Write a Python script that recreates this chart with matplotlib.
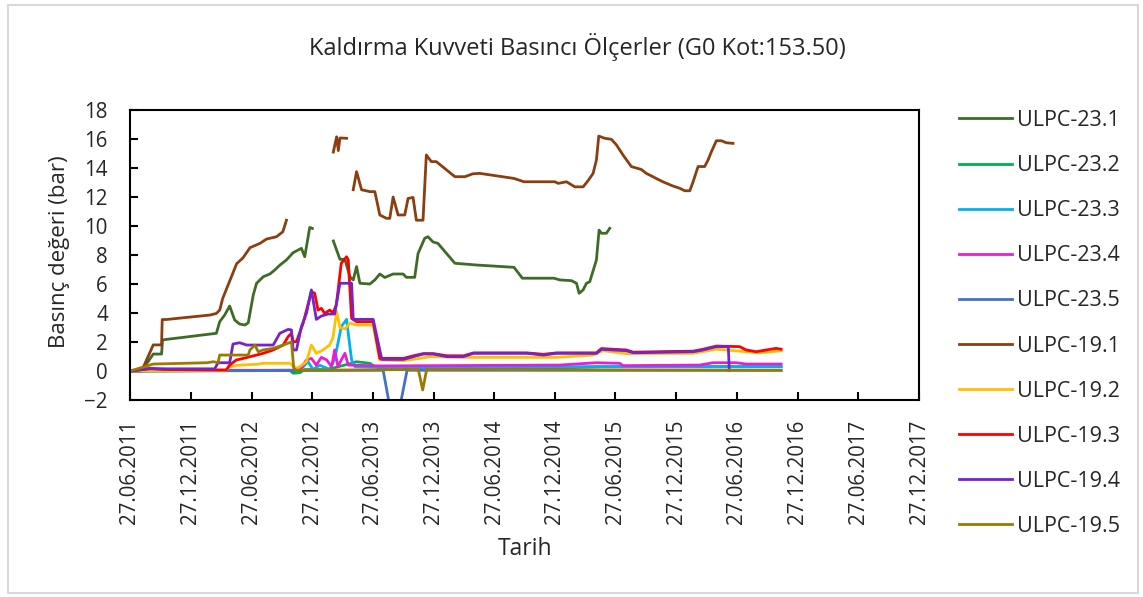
import matplotlib
matplotlib.use("Agg")
import matplotlib.pyplot as plt
import matplotlib.dates as mdates
import matplotlib.patches as mpatches
import numpy as np
import pandas as pd

plt.rcParams['font.family'] = ['Open Sans', 'DejaVu Sans']

NaN = np.nan

# ---------------- data ----------------
series_names = ["ULPC-23.1", "ULPC-23.2", "ULPC-23.3", "ULPC-23.4", "ULPC-23.5",
                "ULPC-19.1", "ULPC-19.2", "ULPC-19.3", "ULPC-19.4", "ULPC-19.5"]
series_colors = ["#3E6B26", "#00B050", "#00B0F0", "#E81ED2", "#4472C4",
                 "#8B3E0F", "#FFC000", "#FF0000", "#7424C8", "#9C7A00"]

d231 = ["2011-06-27", "2011-08-01", "2011-09-05", "2011-09-30", "2011-10-03", "2011-10-15",
        "2012-03-13", "2012-03-23", "2012-04-07", "2012-04-22", "2012-05-07", "2012-05-22",
        "2012-06-07", "2012-06-17", "2012-07-02", "2012-07-12", "2012-08-01", "2012-08-21",
        "2012-09-05", "2012-09-20", "2012-10-10", "2012-10-30", "2012-11-14", "2012-11-24",
        "2012-12-04", "2012-12-19", "2012-12-27", "2013-01-20",
        "2013-02-28", "2013-03-20", "2013-04-04", "2013-04-19", "2013-04-29", "2013-05-09",
        "2013-05-19", "2013-06-18", "2013-07-03", "2013-07-18", "2013-08-02", "2013-08-27",
        "2013-09-26", "2013-10-06", "2013-10-31", "2013-11-10", "2013-11-30", "2013-12-10",
        "2013-12-25", "2014-01-09", "2014-03-01", "2014-05-05", "2014-08-26", "2014-09-20",
        "2014-12-24", "2015-01-11", "2015-02-15", "2015-03-02", "2015-03-10", "2015-03-22",
        "2015-04-01", "2015-04-11", "2015-05-01", "2015-05-09", "2015-05-16", "2015-05-31",
        "2015-06-10"]
v231 = [0, 0, 1.17, 1.17, 2.14, 2.18,
        2.6, 3.4, 3.86, 4.48, 3.52, 3.24,
        3.17, 3.33, 5.24, 6.05, 6.5, 6.69,
        6.97, 7.3, 7.66, 8.16, 8.34, 8.46,
        7.88, 9.9, 9.83, NaN,
        8.97, 7.7, 7.7, 6.5, 6.28, 7.2,
        6.05, 6.0, 6.28, 6.69, 6.45, 6.69,
        6.69, 6.46, 6.46, 8.1, 9.15, 9.26,
        8.9, 8.8, 7.43, 7.31, 7.15, 6.4,
        6.4, 6.28, 6.23, 6.05, 5.36, 5.59,
        6.05, 6.16, 7.66, 9.72, 9.5, 9.5,
        9.84]

d232 = ["2011-06-27", "2012-10-20", "2012-10-30", "2012-11-19", "2012-12-04", "2013-02-08",
        "2013-02-27", "2013-03-24", "2013-04-19", "2013-05-09", "2013-06-18", "2013-07-03",
        "2013-07-18", "2014-04-05", "2015-01-01", "2015-05-11", "2016-11-07"]
v232 = [0, 0.05, -0.15, -0.12, 0.1, 0.1,
        0.2, 0.35, 0.5, 0.64, 0.53, 0.3,
        0.2, 0.18, 0.2, 0.3, 0.3]

d233 = ["2011-06-27", "2012-11-19", "2012-12-14", "2012-12-29", "2013-01-18", "2013-02-17",
        "2013-03-04", "2013-03-24", "2013-04-09", "2013-04-14", "2013-04-24", "2013-05-04",
        "2013-07-18", "2015-05-11", "2016-11-07"]
v233 = [0, 0.05, 0.64, 0.1, 0.4, 0.1,
        0.8, 3.06, 3.56, 2.6, 0.76, 0.3,
        0.25, 0.3, 0.3]

d234 = ["2011-06-27", "2011-09-05", "2011-12-24", "2012-11-19", "2012-12-09", "2012-12-24",
        "2013-01-08", "2013-01-23", "2013-02-08", "2013-02-23", "2013-03-04", "2013-03-14",
        "2013-03-24", "2013-04-04", "2013-04-14", "2013-07-18", "2015-01-11", "2015-05-01",
        "2015-07-10", "2015-07-20", "2016-03-07", "2016-04-16", "2016-06-26", "2016-07-25",
        "2016-11-07"]
v234 = [0, 0.15, 0.05, 0.05, 0.76, 0.87,
        0.41, 0.94, 0.76, 0.3, 1.45, 0.3,
        0.76, 1.22, 0.41, 0.35, 0.41, 0.57,
        0.53, 0.37, 0.41, 0.57, 0.57, 0.48,
        0.48]

d235 = ["2011-06-27", "2013-07-28", "2013-08-23", "2013-09-10", "2013-10-08", "2016-11-07"]
v235 = [0, 0.05, -3.2, -3.2, 0.05, 0.05]

d191 = ["2011-06-27", "2011-08-01", "2011-09-05", "2011-09-30", "2011-10-02", "2011-10-14",
        "2012-02-23", "2012-03-13", "2012-03-23", "2012-04-01", "2012-04-15", "2012-05-13",
        "2012-06-01", "2012-06-22", "2012-07-22", "2012-08-11", "2012-08-30", "2012-09-10",
        "2012-09-29", "2012-10-10", "2012-12-01",
        "2013-02-28", "2013-03-10", "2013-03-15", "2013-03-20", "2013-04-09", "2013-04-20",
        "2013-04-29", "2013-05-09", "2013-05-24", "2013-06-18", "2013-07-03", "2013-07-18",
        "2013-08-07", "2013-08-17", "2013-08-27", "2013-09-11", "2013-10-01", "2013-10-11",
        "2013-10-26", "2013-11-05", "2013-11-25", "2013-12-05", "2013-12-20", "2014-01-04",
        "2014-03-01", "2014-03-31", "2014-04-24", "2014-05-15", "2014-08-26", "2014-09-25",
        "2014-12-27", "2015-01-06", "2015-01-31", "2015-02-25", "2015-03-22", "2015-04-06",
        "2015-04-21", "2015-05-01", "2015-05-08", "2015-05-26", "2015-06-15", "2015-06-30",
        "2015-07-20", "2015-08-14", "2015-08-29", "2015-09-13", "2015-09-28", "2015-10-18",
        "2015-11-02", "2015-11-17", "2015-12-17", "2016-01-07", "2016-01-22", "2016-02-06",
        "2016-02-16", "2016-03-02", "2016-03-22", "2016-04-01", "2016-04-11", "2016-04-26",
        "2016-05-11", "2016-05-26", "2016-06-15"]
v191 = [0, 0, 1.8, 1.8, 3.55, 3.55,
        3.86, 3.97, 4.2, 5.0, 5.8, 7.4,
        7.8, 8.5, 8.8, 9.1, 9.2, 9.26,
        9.6, 10.4, NaN,
        15.1, 16.15, 15.2, 16.07, 16.05, NaN,
        12.5, 13.75, 12.5, 12.37, 12.37, 10.76,
        10.53, 10.53, 12.0, 10.76, 10.76, 11.9,
        11.97, 10.4, 10.4, 14.9, 14.44, 14.44,
        13.4, 13.4, 13.6, 13.63, 13.28, 13.05,
        13.05, 12.94, 13.05, 12.7, 12.7, 13.13,
        13.63, 14.55, 16.2, 16.05, 15.98, 15.6,
        14.9, 14.1, 14.0, 13.9, 13.63, 13.4,
        13.22, 13.05, 12.76, 12.6, 12.43, 12.43,
        13.05, 14.1, 14.1, 14.55, 15.12, 15.88,
        15.88, 15.74, 15.7]

d192 = ["2011-06-27", "2012-04-12", "2012-04-22", "2012-05-22", "2012-07-12", "2012-08-01",
        "2012-10-20", "2012-11-09", "2012-11-19", "2012-12-09", "2012-12-24", "2013-01-08",
        "2013-01-28", "2013-02-17", "2013-02-27", "2013-03-10", "2013-03-20", "2013-04-04",
        "2013-04-19", "2013-05-09", "2013-06-28", "2013-07-18", "2013-09-27", "2013-11-16",
        "2013-12-16", "2014-03-27", "2015-01-01", "2015-04-21", "2015-05-21", "2015-07-30",
        "2016-02-16", "2016-04-26", "2016-05-26", "2016-07-25", "2016-09-03", "2016-11-07"]
v192 = [0, 0.05, 0.3, 0.41, 0.46, 0.53,
        0.53, 0.18, 0.3, 0.64, 1.79, 1.22,
        1.45, 1.79, 2.3, 4.1, 3.0, 2.9,
        3.3, 3.17, 3.17, 0.76, 0.71, 0.87,
        0.99, 0.94, 0.94, 1.1, 1.4, 1.2,
        1.22, 1.5, 1.45, 1.33, 1.26, 1.4]

d193 = ["2011-06-27", "2011-08-26", "2011-10-06", "2012-03-18", "2012-04-12", "2012-04-22",
        "2012-05-12", "2012-06-02", "2012-07-12", "2012-08-01", "2012-08-31", "2012-09-30",
        "2012-10-15", "2012-10-25", "2012-10-30", "2012-11-09", "2012-11-29", "2012-12-24",
        "2013-01-03", "2013-01-13", "2013-01-23", "2013-02-02", "2013-02-17", "2013-02-27",
        "2013-03-09", "2013-03-24", "2013-04-09", "2013-04-14", "2013-04-24", "2013-05-09",
        "2013-06-28", "2013-07-18", "2013-09-27", "2013-10-27", "2013-11-26", "2013-12-26",
        "2014-02-05", "2014-03-27", "2014-04-26", "2014-10-03", "2014-11-23", "2015-01-01",
        "2015-05-01", "2015-05-16", "2015-06-20", "2015-07-30", "2015-08-20", "2016-02-16",
        "2016-03-17", "2016-04-26", "2016-07-05", "2016-07-25", "2016-08-24", "2016-09-23",
        "2016-10-23", "2016-11-07"]
v193 = [0, 0.18, 0.1, 0.07, 0.07, 0.41,
        0.76, 0.87, 1.1, 1.22, 1.45, 1.79,
        2.37, 2.6, 2.02, 2.02, 3.29, 5.47,
        5.36, 4.2, 4.32, 3.97, 4.2, 4.02,
        4.55, 7.43, 7.88, 7.66, 3.63, 3.4,
        3.4, 0.87, 0.87, 1.05, 1.2, 1.2,
        1.05, 1.05, 1.25, 1.25, 1.15, 1.25,
        1.25, 1.55, 1.5, 1.45, 1.3, 1.37,
        1.5, 1.72, 1.68, 1.45, 1.33, 1.45,
        1.56, 1.5]

d194 = ["2011-06-27", "2011-08-26", "2012-03-08", "2012-03-18", "2012-04-22", "2012-05-02",
        "2012-05-22", "2012-06-12", "2012-08-31", "2012-09-20", "2012-10-15", "2012-10-25",
        "2012-10-30", "2012-11-09", "2012-11-24", "2012-12-09", "2012-12-24", "2013-01-08",
        "2013-01-23", "2013-02-12", "2013-03-04", "2013-03-20", "2013-04-24", "2013-04-29",
        "2013-06-28", "2013-07-24", "2013-09-27", "2013-10-27", "2013-11-26", "2013-12-26",
        "2014-02-05", "2014-03-27", "2014-04-26", "2014-10-03", "2014-11-23", "2015-01-01",
        "2015-05-01", "2015-05-16", "2015-06-20", "2015-07-30", "2015-08-20", "2016-02-16",
        "2016-03-17", "2016-04-26", "2016-06-01", "2016-06-04"]
v194 = [0, 0.15, 0.15, 0.57, 0.57, 1.86,
        1.95, 1.79, 1.79, 2.6, 2.87, 2.83,
        1.45, 1.45, 3.06, 3.97, 5.59, 3.56,
        3.79, 3.93, 3.93, 6.05, 6.05, 3.56,
        3.56, 0.8, 0.8, 0.99, 1.17, 1.17,
        0.99, 0.99, 1.22, 1.22, 1.1, 1.22,
        1.22, 1.5, 1.45, 1.4, 1.26, 1.33,
        1.45, 1.68, 1.68, 0.05]

d195 = ["2011-06-27", "2011-09-05", "2012-02-14", "2012-03-04", "2012-03-18", "2012-03-23",
        "2012-06-17", "2012-06-22", "2012-07-07", "2012-07-17", "2012-08-01", "2012-08-31",
        "2012-09-30", "2012-10-25", "2012-11-01", "2012-11-09", "2013-11-11", "2013-11-24",
        "2013-12-06", "2016-11-07"]
v195 = [0, 0.48, 0.57, 0.64, 0.57, 1.1,
        1.1, 1.45, 1.79, 1.33, 1.45, 1.56,
        1.79, 2.0, 0.18, 0.05, 0.1, -1.31,
        0.1, 0.05]

series_dates = [d231, d232, d233, d234, d235, d191, d192, d193, d194, d195]
series_values = [v231, v232, v233, v234, v235, v191, v192, v193, v194, v195]

tick_dates = ["2011-06-27", "2011-12-27", "2012-06-27", "2012-12-27", "2013-06-27",
              "2013-12-27", "2014-06-27", "2014-12-27", "2015-06-27", "2015-12-27",
              "2016-06-27", "2016-12-27", "2017-06-27", "2017-12-27"]
y_ticks = [-2, 0, 2, 4, 6, 8, 10, 12, 14, 16, 18]

title = "Kaldırma Kuvveti Basıncı Ölçerler (G0 Kot:153.50)"
xlabel = "Tarih"
ylabel = "Basınç değeri (bar)"

# ---------------- figure ----------------
W, H = 1143, 597
fig = plt.figure(figsize=(W / 100, H / 100), dpi=100)
ax = fig.add_axes([130 / W, 1 - 400 / H, (919 - 130) / W, (400 - 110) / H])

handles = []
for name, col, dts, vals in zip(series_names, series_colors, series_dates, series_values):
    x = pd.to_datetime(dts)
    ln, = ax.plot(x, vals, color=col, lw=2.0, label=name, solid_joinstyle='round')
    handles.append(ln)

ticks = pd.to_datetime(tick_dates)
ax.set_xlim(ticks[0], ticks[-1])
ax.set_ylim(-2, 18)
ax.set_xticks(ticks)
ax.xaxis.set_major_formatter(mdates.DateFormatter('%d.%m.%Y'))
ax.set_yticks(y_ticks)
for lab in ax.get_xticklabels():
    lab.set_rotation(90)
ax.tick_params(axis='x', direction='in', length=6, width=1.5, labelsize=14.8, pad=14,
               colors='black', labelcolor='#262626')
ax.tick_params(axis='y', direction='in', length=6, width=1.5, labelsize=14.8, pad=16,
               colors='black', labelcolor='#262626')
for sp in ax.spines.values():
    sp.set_linewidth(1.5)
    sp.set_color('black')

fig.text(577 / W, 1 - 47 / H, title, ha='center', va='center', fontsize=17, color='#262626')
fig.text(525 / W, 1 - 549 / H, xlabel, ha='center', va='center', fontsize=16.5, color='#262626')
fig.text(60 / W, 1 - 252 / H, ylabel, ha='center', va='center', rotation=90,
         fontsize=16, color='#262626')

fs_leg = 15.5
leg = fig.legend(handles=handles, labels=series_names, loc='upper left',
                 bbox_to_anchor=(959 / W, 1 - 110 / H), frameon=False, fontsize=fs_leg,
                 handlelength=2.46, handletextpad=0.23, labelspacing=1.12,
                 borderpad=0, borderaxespad=0)
for t in leg.get_texts():
    t.set_color('#262626')

fig.patches.append(mpatches.Rectangle((8 / W, 4 / H), (1138 - 8) / W, (592 - 4) / H,
                                      transform=fig.transFigure, fill=False,
                                      edgecolor='#D9D9D9', lw=1.5))

fig.savefig("out.png", dpi=100)
